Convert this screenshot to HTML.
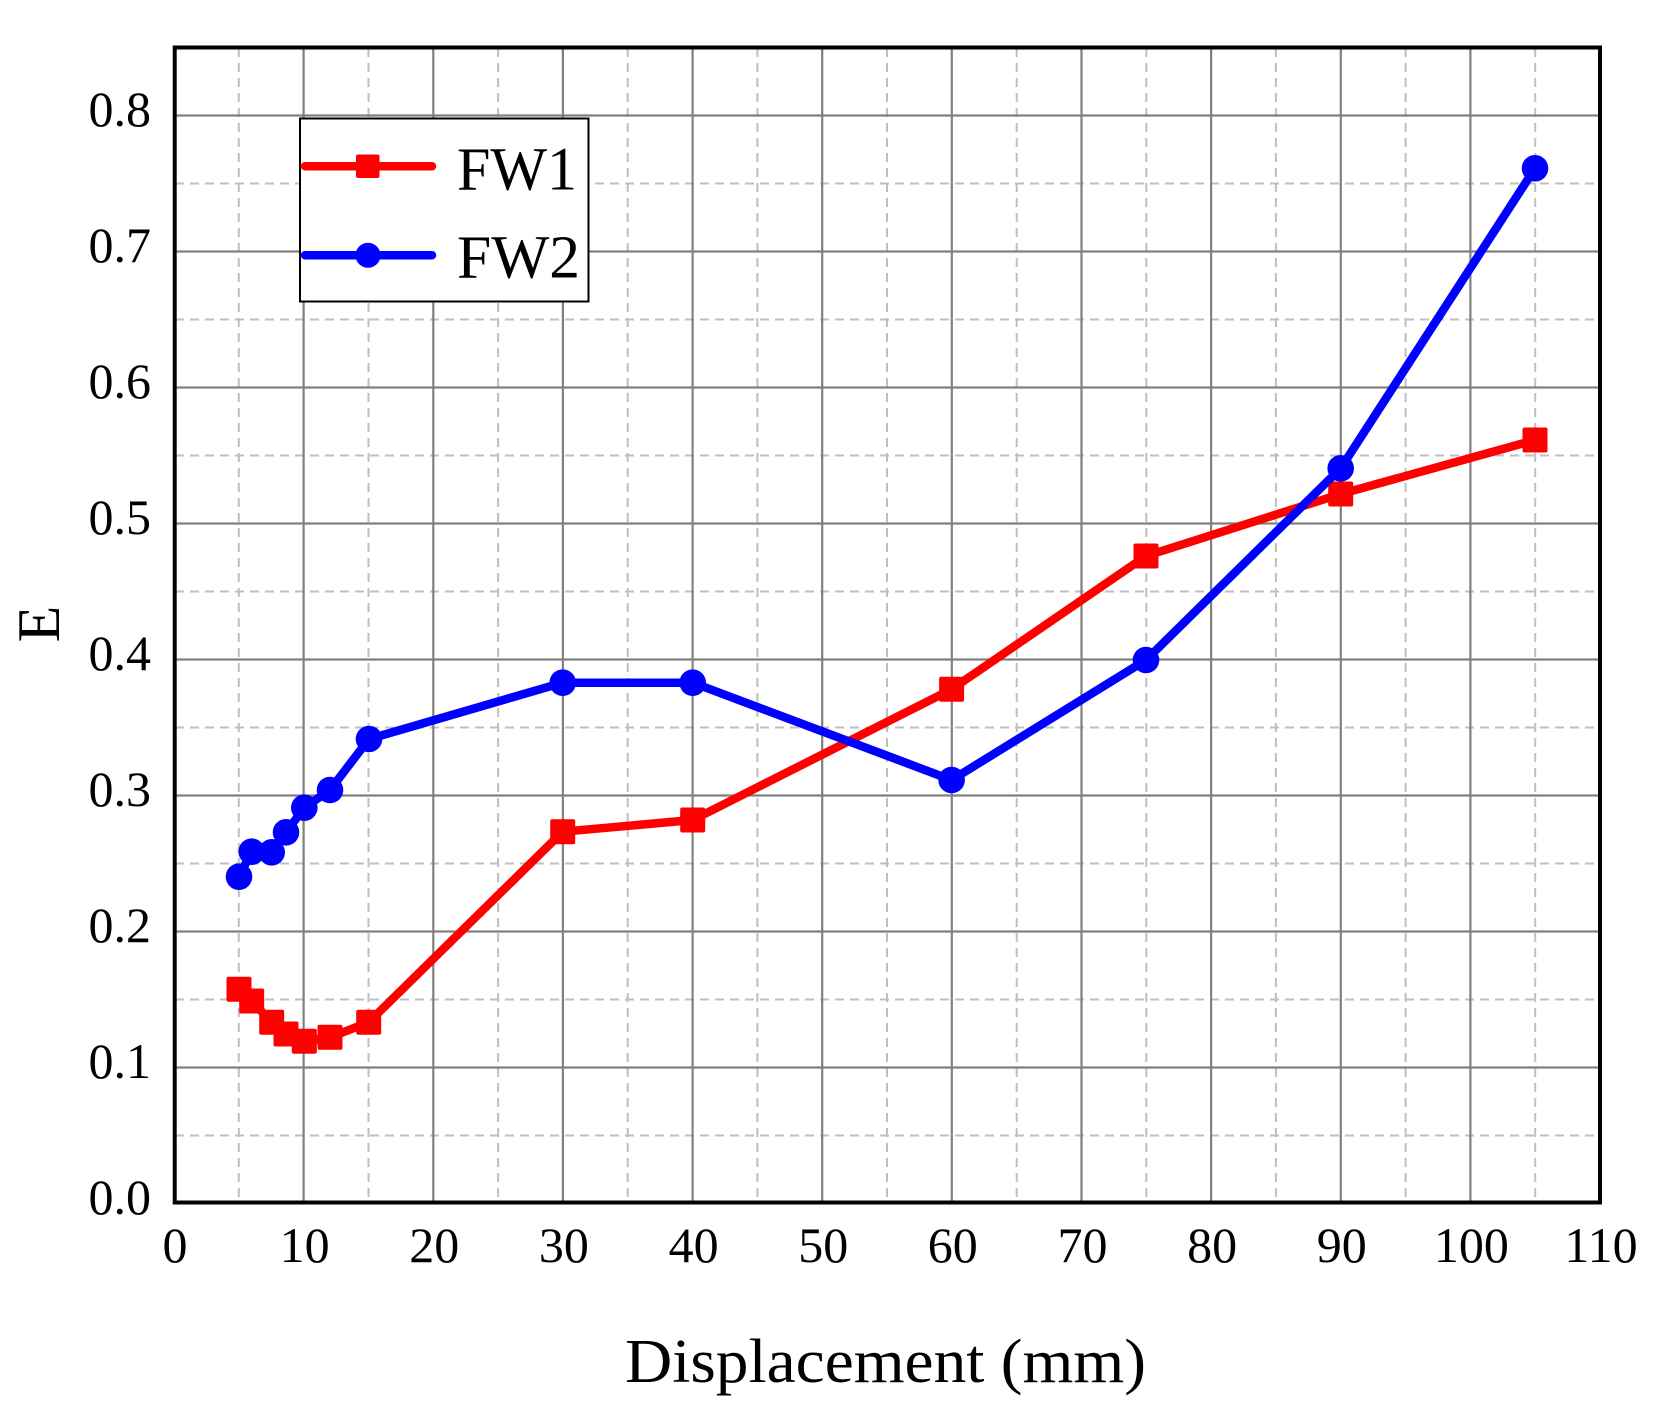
<!DOCTYPE html>
<html><head><meta charset="utf-8"><style>
html,body{margin:0;padding:0;background:#fff;}
svg{display:block;}
text{font-family:"Liberation Serif","DejaVu Serif",serif;fill:#000;}
</style></head><body>
<svg width="1663" height="1412" viewBox="0 0 1663 1412" xmlns="http://www.w3.org/2000/svg">
<rect x="0" y="0" width="1663" height="1412" fill="#fff"/>
<!-- minor grid -->
<g stroke="#bfbfbf" stroke-width="2" stroke-dasharray="9,6" fill="none">
<line x1="238.8" y1="48" x2="238.8" y2="1202"/>
<line x1="368.5" y1="48" x2="368.5" y2="1202"/>
<line x1="498.1" y1="48" x2="498.1" y2="1202"/>
<line x1="627.7" y1="48" x2="627.7" y2="1202"/>
<line x1="757.4" y1="48" x2="757.4" y2="1202"/>
<line x1="887" y1="48" x2="887" y2="1202"/>
<line x1="1016.7" y1="48" x2="1016.7" y2="1202"/>
<line x1="1146.3" y1="48" x2="1146.3" y2="1202"/>
<line x1="1275.9" y1="48" x2="1275.9" y2="1202"/>
<line x1="1405.6" y1="48" x2="1405.6" y2="1202"/>
<line x1="1535.2" y1="48" x2="1535.2" y2="1202"/>
<line x1="175" y1="1135.5" x2="1600" y2="1135.5"/>
<line x1="175" y1="999.5" x2="1600" y2="999.5"/>
<line x1="175" y1="863.5" x2="1600" y2="863.5"/>
<line x1="175" y1="727.5" x2="1600" y2="727.5"/>
<line x1="175" y1="591.5" x2="1600" y2="591.5"/>
<line x1="175" y1="455.5" x2="1600" y2="455.5"/>
<line x1="175" y1="319.5" x2="1600" y2="319.5"/>
<line x1="175" y1="183.5" x2="1600" y2="183.5"/>
</g>
<!-- major grid -->
<g stroke="#808080" stroke-width="2.2" fill="none">
<line x1="303.6" y1="48" x2="303.6" y2="1202"/>
<line x1="433.3" y1="48" x2="433.3" y2="1202"/>
<line x1="562.9" y1="48" x2="562.9" y2="1202"/>
<line x1="692.6" y1="48" x2="692.6" y2="1202"/>
<line x1="822.2" y1="48" x2="822.2" y2="1202"/>
<line x1="951.8" y1="48" x2="951.8" y2="1202"/>
<line x1="1081.5" y1="48" x2="1081.5" y2="1202"/>
<line x1="1211.1" y1="48" x2="1211.1" y2="1202"/>
<line x1="1340.8" y1="48" x2="1340.8" y2="1202"/>
<line x1="1470.4" y1="48" x2="1470.4" y2="1202"/>
<line x1="175" y1="1067.5" x2="1600" y2="1067.5"/>
<line x1="175" y1="931.5" x2="1600" y2="931.5"/>
<line x1="175" y1="795.5" x2="1600" y2="795.5"/>
<line x1="175" y1="659.5" x2="1600" y2="659.5"/>
<line x1="175" y1="523.5" x2="1600" y2="523.5"/>
<line x1="175" y1="387.5" x2="1600" y2="387.5"/>
<line x1="175" y1="251.5" x2="1600" y2="251.5"/>
<line x1="175" y1="115.5" x2="1600" y2="115.5"/>
</g>
<!-- FW1 -->
<polyline fill="none" stroke="#ff0000" stroke-width="8.5" stroke-linejoin="round" stroke-linecap="round"
points="239,989.3 251.7,1001 271.7,1022.3 286,1034 304.3,1041.3 330,1037.3 368.7,1022.3 562.7,831.7 692.7,820 951.6,689.3 1146,556 1340.7,494 1535,440"/>
<g fill="#ff0000">
<rect x="226.5" y="976.8" width="25" height="25" rx="2"/>
<rect x="239.2" y="988.5" width="25" height="25" rx="2"/>
<rect x="259.2" y="1009.8" width="25" height="25" rx="2"/>
<rect x="273.5" y="1021.5" width="25" height="25" rx="2"/>
<rect x="291.8" y="1028.8" width="25" height="25" rx="2"/>
<rect x="317.5" y="1024.8" width="25" height="25" rx="2"/>
<rect x="356.2" y="1009.8" width="25" height="25" rx="2"/>
<rect x="550.2" y="819.2" width="25" height="25" rx="2"/>
<rect x="680.2" y="807.5" width="25" height="25" rx="2"/>
<rect x="939.1" y="676.8" width="25" height="25" rx="2"/>
<rect x="1133.5" y="543.5" width="25" height="25" rx="2"/>
<rect x="1328.2" y="481.5" width="25" height="25" rx="2"/>
<rect x="1522.5" y="427.5" width="25" height="25" rx="2"/>
</g>
<!-- FW2 -->
<polyline fill="none" stroke="#0000ff" stroke-width="8.5" stroke-linejoin="round" stroke-linecap="round"
points="239,876.7 251.7,851.7 271.7,852.3 286,832.3 304.3,807.7 330,790 369,739 562.7,682.7 692.7,682.7 951.6,780 1146,660 1340.7,468.3 1535,168.3"/>
<g fill="#0000ff">
<circle cx="239" cy="876.7" r="13.3"/>
<circle cx="251.7" cy="851.7" r="13.3"/>
<circle cx="271.7" cy="852.3" r="13.3"/>
<circle cx="286" cy="832.3" r="13.3"/>
<circle cx="304.3" cy="807.7" r="13.3"/>
<circle cx="330" cy="790" r="13.3"/>
<circle cx="369" cy="739" r="13.3"/>
<circle cx="562.7" cy="682.7" r="13.3"/>
<circle cx="692.7" cy="682.7" r="13.3"/>
<circle cx="951.6" cy="780" r="13.3"/>
<circle cx="1146" cy="660" r="13.3"/>
<circle cx="1340.7" cy="468.3" r="13.3"/>
<circle cx="1535" cy="168.3" r="13.3"/>
</g>
<!-- frame -->
<rect x="174.7" y="47.5" width="1425.3" height="1155" fill="none" stroke="#000" stroke-width="4"/>
<!-- legend -->
<rect x="300" y="118.5" width="288.5" height="183" fill="#fff" stroke="#000" stroke-width="2"/>
<line x1="305" y1="166.3" x2="432" y2="166.3" stroke="#ff0000" stroke-width="8.5" stroke-linecap="round"/>
<rect x="356" y="154.5" width="23.5" height="23.5" rx="2" fill="#ff0000"/>
<line x1="305" y1="255.3" x2="432" y2="255.3" stroke="#0000ff" stroke-width="8.5" stroke-linecap="round"/>
<circle cx="368" cy="255.3" r="12.5" fill="#0000ff"/>
<text x="457" y="189.5" font-size="61" textLength="120" lengthAdjust="spacingAndGlyphs">FW1</text>
<text x="457" y="277.5" font-size="61" textLength="123" lengthAdjust="spacingAndGlyphs">FW2</text>
<!-- y tick labels -->
<g font-size="50" text-anchor="end">
<text x="151" y="1214">0.0</text>
<text x="151" y="1078">0.1</text>
<text x="151" y="942">0.2</text>
<text x="151" y="806">0.3</text>
<text x="151" y="670">0.4</text>
<text x="151" y="534">0.5</text>
<text x="151" y="398">0.6</text>
<text x="151" y="262">0.7</text>
<text x="151" y="126">0.8</text>
</g>
<!-- x tick labels -->
<g font-size="50" text-anchor="middle">
<text x="175" y="1262">0</text>
<text x="304.6" y="1262">10</text>
<text x="434.3" y="1262">20</text>
<text x="563.9" y="1262">30</text>
<text x="693.6" y="1262">40</text>
<text x="823.2" y="1262">50</text>
<text x="952.8" y="1262">60</text>
<text x="1082.5" y="1262">70</text>
<text x="1212.1" y="1262">80</text>
<text x="1341.8" y="1262">90</text>
<text x="1471.4" y="1262">100</text>
<text x="1601" y="1262">110</text>
</g>
<!-- axis labels -->
<text x="625" y="1382" font-size="62" textLength="521" lengthAdjust="spacingAndGlyphs">Displacement (mm)</text>
<text transform="translate(59,624) rotate(-90)" font-size="60" text-anchor="middle">E</text>
</svg>
</body></html>
